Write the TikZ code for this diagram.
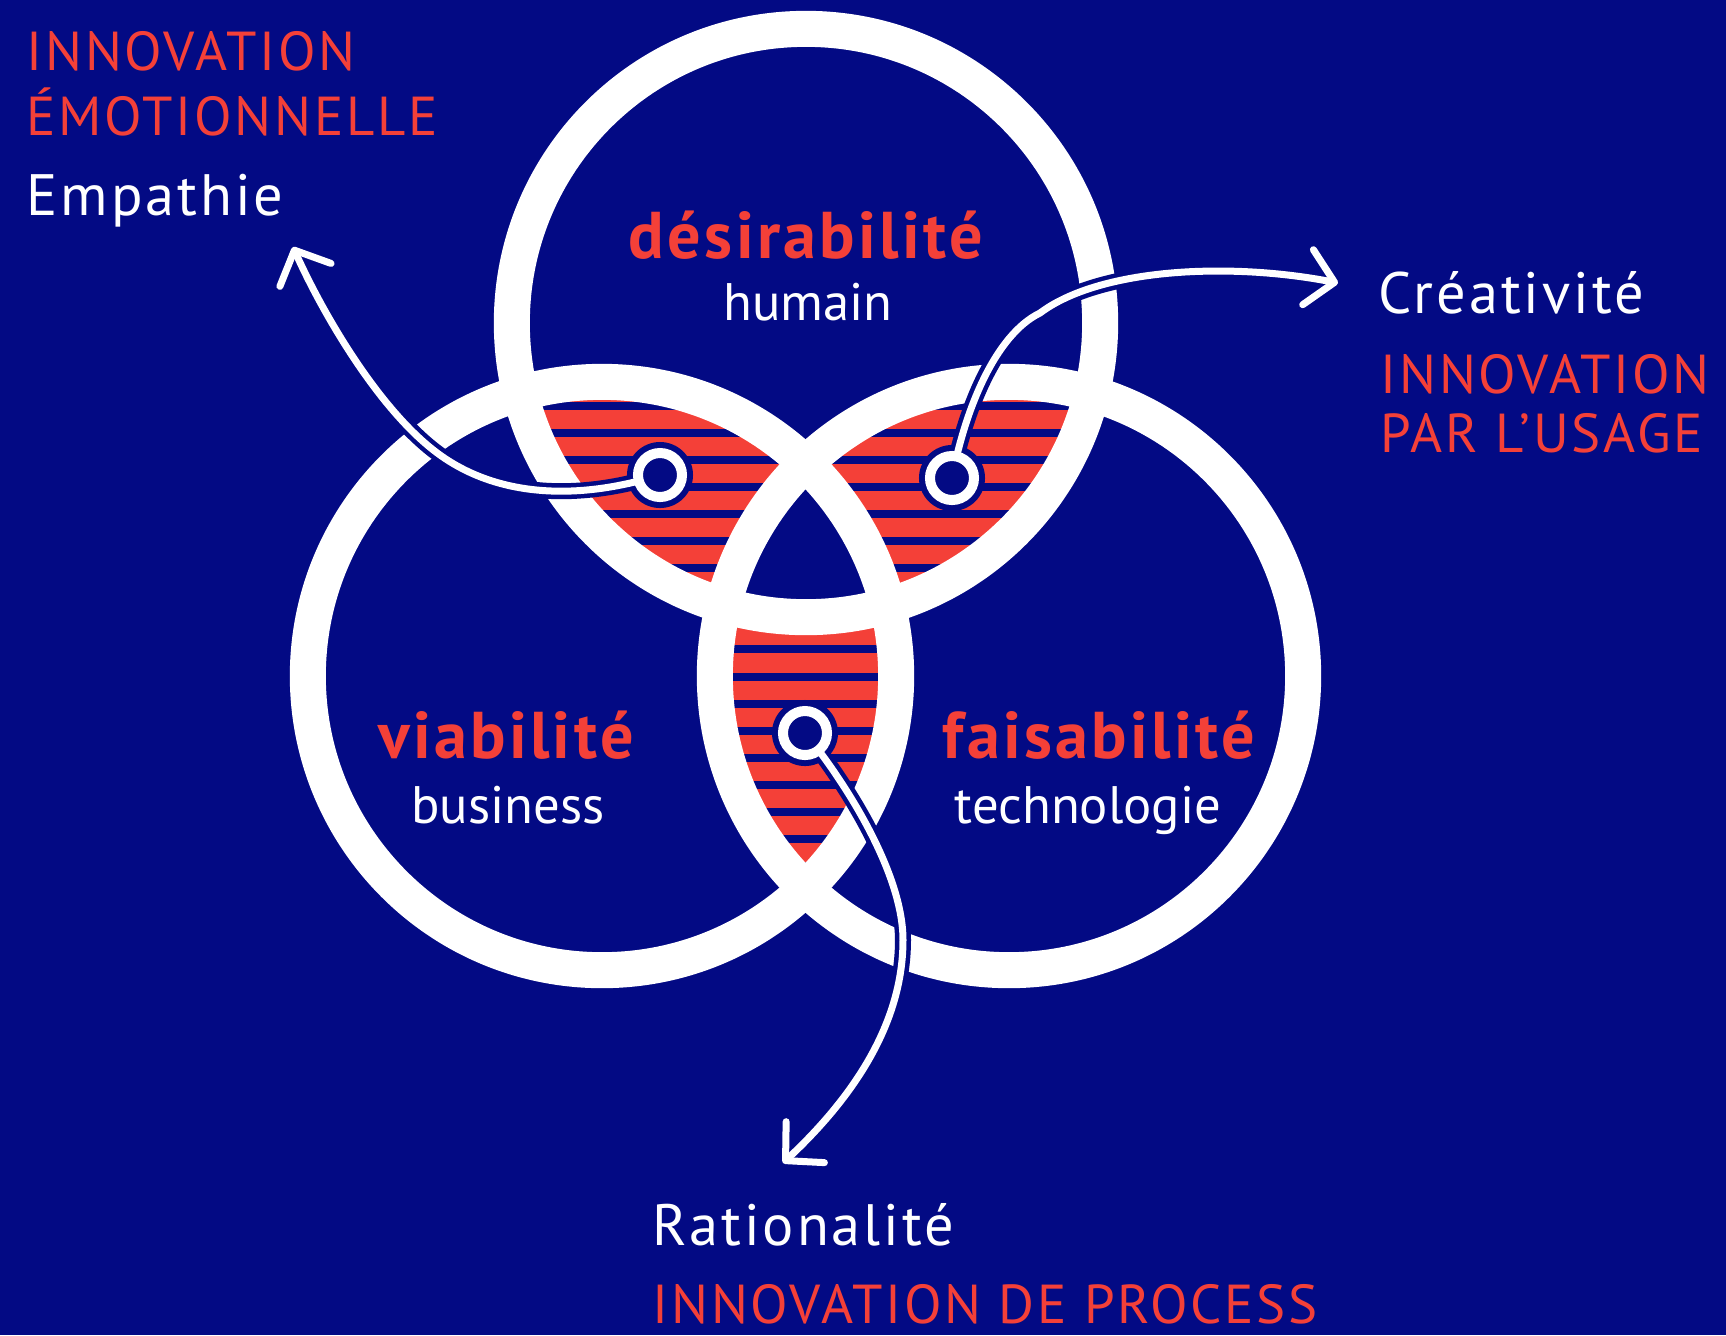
\documentclass[tikz,border=0pt]{standalone}
\usepackage{fontspec}
\setmainfont{PT Sans}
\newfontfamily\widesans[LetterSpace=5]{PT Sans}
\usepackage{xcolor}
\usetikzlibrary{arrows.meta}
\definecolor{bgblue}{RGB}{3,10,132}
\definecolor{lensred}{RGB}{244,64,56}
\tikzset{
  ring/.style={draw=white, line width=0.36cm},
  stripe/.style={draw=bgblue, line width=0.08cm},
  halo/.style={draw=bgblue, line width=0.16cm},
  connector/.style={
    draw=white,
    line width=0.07cm,
    -{Straight Barb[length=0.27cm,width=0.56cm,round]}
  },
  hub/.style={
    circle,
    draw=white,
    fill=bgblue,
    line width=0.1cm,
    minimum size=0.44cm,
    inner sep=0pt
  },
  headline/.style={text=lensred, font=\widesans\fontsize{15.6}{18}\selectfont, anchor=base west, inner sep=0pt},
  keyword/.style={text=white, font=\widesans\fontsize{16.6}{19}\selectfont, anchor=base west, inner sep=0pt},
  circletitle/.style={text=lensred, font=\widesans\fontsize{18.8}{22}\selectfont\bfseries, anchor=base, inner sep=0pt},
  circlesub/.style={text=white, font=\fontsize{15}{18}\selectfont, anchor=base, inner sep=0pt}
}

\begin{document}
\begin{tikzpicture}[x=0.01cm, y=-0.01cm]
  % Fixed frame, pixel units
  \useasboundingbox (0,0) rectangle (1726,1335);
  \fill[bgblue] (0,0) rectangle (1726,1335);

  \coordinate (topC) at (806,323);
  \coordinate (leftC) at (602,676);
  \coordinate (rightC) at (1009,676);

  % Striped lenses
  \foreach \a/\b in {topC/leftC, topC/rightC, leftC/rightC}{
    \begin{scope}
      \clip (\a) circle (2.94cm);
      \clip (\b) circle (2.94cm);
      \fill[lensred] (250,300) rectangle (1350,950);
      \foreach \k in {-4,...,20}
        \draw[stripe] (250,{405.5+27.1*\k}) -- (1350,{405.5+27.1*\k});
    \end{scope}
  }

  % Centre stays plain
  \begin{scope}
    \clip (topC) circle (2.94cm);
    \clip (leftC) circle (2.94cm);
    \clip (rightC) circle (2.94cm);
    \fill[bgblue] (250,300) rectangle (1350,950);
  \end{scope}

  % Rings
  \draw[ring] (topC) circle (2.94cm);
  \draw[ring] (leftC) circle (2.94cm);
  \draw[ring] (rightC) circle (2.94cm);

  % Circle labels
  \node[circletitle] (desir) at (806,258) {désirabilité};
  \node[circlesub] (humain) at (808,320) {humain};
  \node[circletitle] (viab) at (506,758) {viabilité};
  \node[circlesub] (business) at (508,823) {business};
  \node[circletitle] (faisab) at (1099,758) {faisabilité};
  \node[circlesub] (techno) at (1088,823) {technologie};

  % Outer labels
  \node[headline] (emoA) at (26,70) {INNOVATION};
  \node[headline] (emoB) at (26,135) {ÉMOTIONNELLE};
  \node[keyword] (empathie) at (26,215) {Empathie};
  \node[keyword] (creativite) at (1378,313) {Créativité};
  \node[headline] (usageA) at (1380,393) {INNOVATION};
  \node[headline] (usageB) at (1380,452) {PAR L’USAGE};
  \node[keyword] (rationalite) at (652,1245) {Rationalité};
  \node[headline] (process) at (652,1323) {INNOVATION DE PROCESS};

  % Hubs and arrow ends
  \coordinate (hubL) at (660,475);
  \coordinate (hubR) at (952,478);
  \coordinate (hubB) at (805,733);
  \coordinate (empTip) at (293,247);
  \coordinate (creTip) at (1338,283);
  \coordinate (ratTip) at (783,1163);

  \foreach \h in {hubL,hubR,hubB}
    \fill[bgblue] (\h) circle (0.33cm);

  % Connectors: dark halo first, white line on top
  \draw[halo] (hubL) .. controls (580,500) and (500,498) .. (440,455)
    .. controls (380,412) and (323,314) .. (empTip);
  \draw[halo] (hubR) .. controls (965,410) and (995,335) .. (1040,313)
    .. controls (1100,268) and (1230,262) .. (creTip);
  \draw[halo] (hubB) .. controls (840,775) and (903,870) .. (903,940)
    .. controls (903,1030) and (845,1105) .. (ratTip);

  \draw[connector] (hubL) .. controls (580,500) and (500,498) .. (440,455)
    .. controls (380,412) and (323,314) .. (empTip);
  \draw[connector] (hubR) .. controls (965,410) and (995,335) .. (1040,313)
    .. controls (1100,268) and (1230,262) .. (creTip);
  \draw[connector] (hubB) .. controls (840,775) and (903,870) .. (903,940)
    .. controls (903,1030) and (845,1105) .. (ratTip);

  \node[hub] (hubLn) at (hubL) {};
  \node[hub] (hubRn) at (hubR) {};
  \node[hub] (hubBn) at (hubB) {};
\end{tikzpicture}
\end{document}
